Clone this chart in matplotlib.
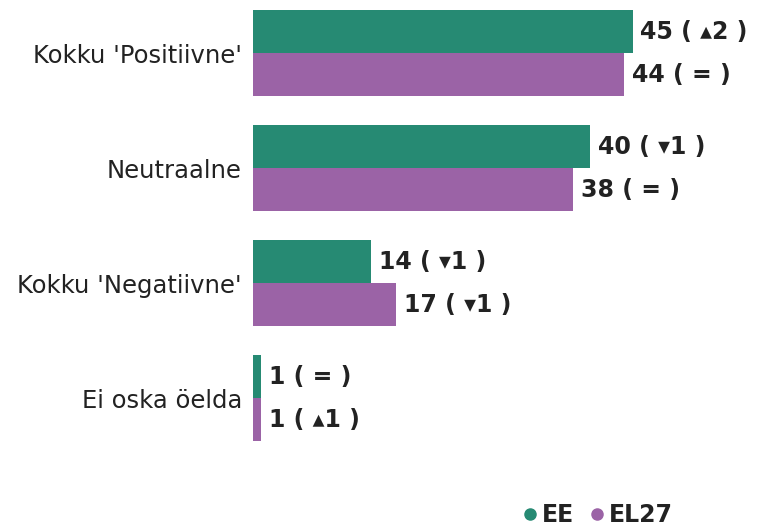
import matplotlib
matplotlib.use("Agg")
import matplotlib.pyplot as plt
from matplotlib.lines import Line2D
import numpy as np

categories = ["Kokku 'Positiivne'", "Neutraalne", "Kokku 'Negatiivne'", "Ei oska öelda"]
ee_values = [45, 40, 14, 1]
el27_values = [44, 38, 17, 1]
ee_labels = ["45 ( \u25b42 )", "40 ( \u25be1 )", "14 ( \u25be1 )", "1 ( = )"]
el27_labels = ["44 ( = )", "38 ( = )", "17 ( \u25be1 )", "1 ( \u25b41 )"]

green = "#268a73"
purple = "#9b63a6"
text_col = "#222222"

fig = plt.figure(figsize=(7.69, 5.26), dpi=100, facecolor="white")
ax = fig.add_axes([253 / 769, 1 - 470 / 526, (759 - 253) / 769, 470 / 526])

y = np.arange(len(categories))
h = 0.374
ax.barh(y - h / 2, ee_values, height=h, color=green)
ax.barh(y + h / 2, el27_values, height=h, color=purple)

for i in range(len(categories)):
    ax.text(ee_values[i] + 0.9, y[i] - h / 2, ee_labels[i], va="center", ha="left",
            fontsize=17, fontweight="bold", color=text_col)
    ax.text(el27_values[i] + 0.9, y[i] + h / 2, el27_labels[i], va="center", ha="left",
            fontsize=17, fontweight="bold", color=text_col)

ax.set_xlim(0, 60)
ax.set_ylim(3.626, -0.461)
ax.set_yticks(y)
ax.set_yticklabels(categories, fontsize=17.5, color=text_col)
ax.tick_params(axis="y", length=0, pad=8)
ax.set_xticks([])
for s in ax.spines.values():
    s.set_visible(False)

handles = [Line2D([], [], marker="o", linestyle="", color=green, markersize=8),
           Line2D([], [], marker="o", linestyle="", color=purple, markersize=8)]
leg = fig.legend(handles, ["EE", "EL27"], loc="center left", bbox_to_anchor=(0.655, 0.021),
                 ncol=2, frameon=False, handletextpad=-0.1, columnspacing=0.4,
                 handlelength=1.2, borderpad=0,
                 prop={"weight": "bold", "size": 17})
for t in leg.get_texts():
    t.set_color(text_col)

fig.savefig("out.png", dpi=100, facecolor="white")
